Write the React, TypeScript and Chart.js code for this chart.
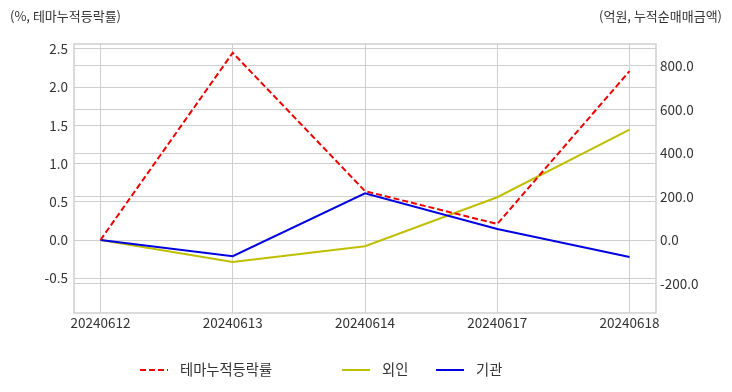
import React, { useEffect, useRef } from "react";
import { Chart, registerables } from "chart.js";

Chart.register(...registerables);

const categories = ["20240612", "20240613", "20240614", "20240617", "20240618"];
const themeReturn = [0, 2.45, 0.64, 0.21, 2.21];
const foreignNet = [0, -101, -28, 197, 508];
const institutionNet = [0, -74, 215, 51, -78];
const leftTicks = [-0.5, 0, 0.5, 1.0, 1.5, 2.0, 2.5];
const rightTicks = [-200, 0, 200, 400, 600, 800];
const leftTitle = "(%, 테마누적등락률)";
const rightTitle = "(억원, 누적순매매금액)";
const seriesNames = ["테마누적등락률", "외인", "기관"];

const FONT = "'Noto Sans CJK KR', 'Noto Sans', sans-serif";
const TEXT = "#333333";
const GRID = "#cfcfcf";
const COLORS = ["#f00000", "#bfbf00", "#0000e0"];

export default function App() {
  const ref = useRef<HTMLCanvasElement | null>(null);

  useEffect(() => {
    if (!ref.current) return;
    const toPts = (arr: number[]) => arr.map((v, i) => ({ x: i, y: v }));

    const decor = {
      id: "decor",
      afterDraw(chart: any) {
        const { ctx, chartArea } = chart;
        ctx.save();
        // frame
        ctx.strokeStyle = GRID;
        ctx.lineWidth = 1.5;
        ctx.strokeRect(chartArea.left, chartArea.top, chartArea.right - chartArea.left, chartArea.bottom - chartArea.top);
        // titles
        ctx.fillStyle = TEXT;
        ctx.font = `13px ${FONT}`;
        ctx.textBaseline = "middle";
        ctx.textAlign = "left";
        ctx.fillText(leftTitle, 10, 16);
        ctx.textAlign = "right";
        ctx.fillText(rightTitle, 722, 16);
        // legend
        const items = [
          { x0: 140, x1: 168, tx: 180, dash: [6, 3] },
          { x0: 342, x1: 370, tx: 382, dash: [] },
          { x0: 436, x1: 464, tx: 476, dash: [] },
        ];
        const ly = 370;
        ctx.font = `14.3px ${FONT}`;
        ctx.textAlign = "left";
        items.forEach((it, i) => {
          ctx.strokeStyle = COLORS[i];
          ctx.lineWidth = 2;
          ctx.setLineDash(it.dash);
          ctx.beginPath();
          ctx.moveTo(it.x0, ly);
          ctx.lineTo(it.x1, ly);
          ctx.stroke();
          ctx.setLineDash([]);
          ctx.fillStyle = TEXT;
          ctx.fillText(seriesNames[i], it.tx, ly);
        });
        ctx.restore();
      },
    };

    const tickFont = { family: FONT, size: 13.5 };

    const chart = new Chart(ref.current, {
      type: "line",
      data: {
        datasets: [
          {
            label: seriesNames[0],
            data: toPts(themeReturn),
            yAxisID: "y",
            borderColor: COLORS[0],
            borderWidth: 2,
            borderDash: [6, 3],
            pointRadius: 0,
            tension: 0,
            order: 0,
          },
          {
            label: seriesNames[1],
            data: toPts(foreignNet),
            yAxisID: "y1",
            borderColor: COLORS[1],
            borderWidth: 2,
            pointRadius: 0,
            tension: 0,
            order: 2,
          },
          {
            label: seriesNames[2],
            data: toPts(institutionNet),
            yAxisID: "y1",
            borderColor: COLORS[2],
            borderWidth: 2,
            pointRadius: 0,
            tension: 0,
            order: 1,
          },
        ],
      },
      options: {
        responsive: false,
        animation: false,
        layout: { padding: { top: 44, bottom: 59, left: 0, right: 0 } },
        plugins: {
          legend: { display: false },
          tooltip: { enabled: false },
          title: { display: false },
        },
        scales: {
          x: {
            type: "linear",
            min: -0.2,
            max: 4.2,
            afterBuildTicks: (s: any) => {
              s.ticks = categories.map((_, i) => ({ value: i }));
            },
            afterFit: (s: any) => {
              s.height = 20;
            },
            ticks: {
              callback: (v: any) => categories[v as number] ?? "",
              color: TEXT,
              font: tickFont,
              padding: 2,
              maxRotation: 0,
              autoSkip: false,
            },
            grid: { color: GRID, drawTicks: false, lineWidth: 1 },
            border: { display: false },
          },
          y: {
            type: "linear",
            position: "left",
            min: -0.955,
            max: 2.565,
            afterBuildTicks: (s: any) => {
              s.ticks = leftTicks.map((v) => ({ value: v }));
            },
            afterFit: (s: any) => {
              s.width = 74;
            },
            ticks: {
              callback: (v: any) => Number(v).toFixed(1),
              color: TEXT,
              font: tickFont,
              padding: 6,
            },
            grid: { color: GRID, drawTicks: false, lineWidth: 1 },
            border: { display: false },
          },
          y1: {
            type: "linear",
            position: "right",
            min: -335,
            max: 901,
            afterBuildTicks: (s: any) => {
              s.ticks = rightTicks.map((v) => ({ value: v }));
            },
            afterFit: (s: any) => {
              s.width = 76;
            },
            ticks: {
              callback: (v: any) => Number(v).toFixed(1),
              color: TEXT,
              font: tickFont,
              padding: 4,
            },
            grid: { color: GRID, drawTicks: false, lineWidth: 1 },
            border: { display: false },
          },
        },
      },
      plugins: [decor],
    } as any);

    return () => chart.destroy();
  }, []);

  return (
    <div style={{ position: "absolute", left: 0, top: 0, width: 732, height: 392, background: "#fff" }}>
      <canvas ref={ref} width={732} height={392} style={{ display: "block", width: 732, height: 392 }} />
    </div>
  );
}
